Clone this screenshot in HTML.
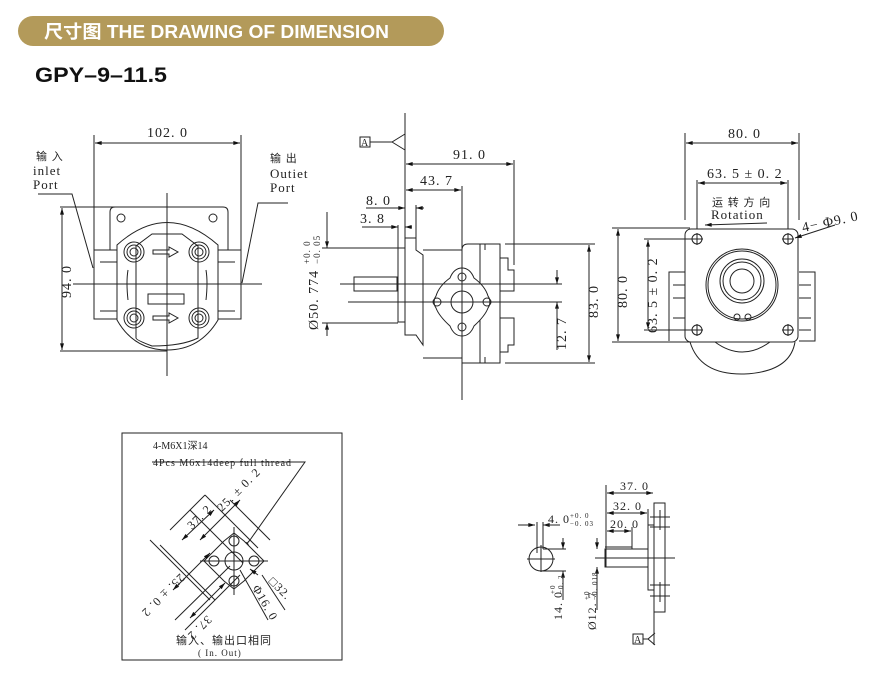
<!DOCTYPE html>
<html><head><meta charset="utf-8"><style>
html,body{margin:0;padding:0;background:#fff;}
body{width:880px;height:684px;position:relative;overflow:hidden;}
svg{position:absolute;left:0;top:0;}
.d{font-family:"Liberation Serif","Noto Serif CJK SC",serif;font-size:14px;fill:#222;letter-spacing:1px;}
.s{font-family:"Liberation Serif","Noto Sans CJK SC",serif;font-size:11px;fill:#222;letter-spacing:1px;}
</style></head><body>
<svg width="880" height="684" viewBox="0 0 880 684" xmlns="http://www.w3.org/2000/svg">
<defs>
<marker id="a" viewBox="0 0 10 6" refX="10" refY="3" markerWidth="7" markerHeight="4" orient="auto-start-reverse"><path d="M0,0 L10,3 L0,6z" fill="#111"/></marker>
</defs>
<rect x="18" y="16" width="426" height="30" rx="15" fill="#b39a5a"/>
<text x="44" y="38" font-family="Liberation Sans,'Noto Sans CJK SC',sans-serif" font-weight="bold" font-size="18" fill="#fff" textLength="345" lengthAdjust="spacingAndGlyphs">尺寸图  THE DRAWING OF DIMENSION</text>
<text x="35" y="82" font-family="Liberation Sans,sans-serif" font-weight="bold" font-size="21" fill="#111" textLength="132" lengthAdjust="spacingAndGlyphs">GPY–9–11.5</text>

<g stroke="#222" stroke-width="1" fill="none">
<!-- front view -->
<line x1="94" y1="135" x2="94" y2="319"/><line x1="241" y1="135" x2="241" y2="319"/>
<line x1="95" y1="143" x2="240" y2="143" marker-start="url(#a)" marker-end="url(#a)"/>
<path d="M110,250 V212 Q110,207 115,207 H223 Q228,207 228,212 V250"/>
<circle cx="121" cy="218" r="4"/><circle cx="213" cy="218" r="4"/>
<rect x="94" y="250" width="147" height="69"/>
<line x1="100" y1="262" x2="117" y2="262"/><line x1="218" y1="262" x2="235" y2="262"/>
<line x1="100" y1="311" x2="117" y2="311"/><line x1="218" y1="311" x2="235" y2="311"/>
<path d="M117,245 Q167,200 218,245 V320 Q200,350 167,350 Q134,350 117,320 Z" fill="#fff"/>
<path d="M152,234 H182 Q190,240 198,246 V338 Q182,346 152,346 Q136,340 136,338 V246 Q144,240 152,234Z"/>
<path d="M128,270 Q126,282 128,300 M206,270 Q208,282 206,300"/>
<rect x="148" y="294" width="36" height="10"/>
<path d="M153,250 H169 V247 L178,252 L169,257 V254 H153Z"/>
<path d="M153,316 H169 V313 L178,318 L169,323 V320 H153Z"/>
<g><circle cx="134" cy="252" r="10"/><circle cx="134" cy="252" r="7"/><circle cx="134" cy="252" r="4"/>
<circle cx="199" cy="252" r="10"/><circle cx="199" cy="252" r="7"/><circle cx="199" cy="252" r="4"/>
<circle cx="134" cy="318" r="10"/><circle cx="134" cy="318" r="7"/><circle cx="134" cy="318" r="4"/>
<circle cx="199" cy="318" r="10"/><circle cx="199" cy="318" r="7"/><circle cx="199" cy="318" r="4"/></g>
<line x1="167" y1="193" x2="167" y2="376"/><line x1="73" y1="284" x2="262" y2="284"/>
<line x1="60" y1="207" x2="120" y2="207"/><line x1="60" y1="351" x2="167" y2="351"/>
<line x1="62" y1="208" x2="62" y2="350" marker-start="url(#a)" marker-end="url(#a)"/>
<path d="M38,194 H72 L93,268"/><path d="M288,203 H258 L242,283"/>
<!-- side view -->
<rect x="360" y="137" width="10" height="10"/><path d="M370,142 H392 L405,134 M392,142 L405,150"/>
<line x1="405" y1="113" x2="405" y2="245"/>
<line x1="406" y1="164" x2="513" y2="164" marker-start="url(#a)" marker-end="url(#a)"/>
<line x1="514" y1="160" x2="514" y2="265"/>
<line x1="406" y1="190" x2="461" y2="190" marker-start="url(#a)" marker-end="url(#a)"/>
<line x1="462" y1="186" x2="462" y2="400"/>
<line x1="366" y1="208" x2="398" y2="208"/><line x1="398" y1="208" x2="405" y2="208" marker-end="url(#a)"/><line x1="424" y1="208" x2="416" y2="208" marker-end="url(#a)"/><line x1="416" y1="205" x2="416" y2="238"/>
<line x1="362" y1="227" x2="391" y2="227"/><line x1="391" y1="227" x2="398" y2="227" marker-end="url(#a)"/><line x1="412" y1="227" x2="405" y2="227" marker-end="url(#a)"/><line x1="398" y1="225" x2="398" y2="248"/>
<rect x="398" y="248" width="7" height="74"/>
<path d="M405,238 H416 V250 L423,255 V345 L416,335 H405Z"/>
<path d="M423,250 H462 V358 H423"/>
<path d="M462,250 Q462,244 468,244 H480 V363 H462"/>
<path d="M480,244 H500 V363 H480 M485,244 V250 M485,357 V363"/>
<path d="M500,258 H508 V270 H514 V291 H500 M500,318 H514 V345 H508 V352 H500"/>
<rect x="354" y="277" width="43" height="14"/>
<path d="M462,268 Q470,268 474,278 Q485,286 488,296 Q492,302 488,308 Q485,316 474,326 Q470,336 462,336 Q454,336 450,326 Q439,316 436,308 Q432,302 436,296 Q439,286 450,278 Q454,268 462,268Z" fill="#fff"/>
<circle cx="462" cy="302" r="11"/>
<circle cx="462" cy="277" r="4"/><circle cx="462" cy="327" r="4"/><circle cx="437" cy="302" r="4"/><circle cx="487" cy="302" r="4"/>
<line x1="462" y1="186" x2="462" y2="400"/>
<line x1="340" y1="284" x2="562" y2="284"/><line x1="348" y1="302" x2="562" y2="302"/>
<line x1="322" y1="248" x2="398" y2="248"/><line x1="322" y1="323" x2="398" y2="323"/>
<line x1="327" y1="212" x2="327" y2="248"/><line x1="327" y1="235" x2="327" y2="248" marker-end="url(#a)"/><line x1="327" y1="336" x2="327" y2="323" marker-end="url(#a)"/><line x1="327" y1="323" x2="327" y2="330"/>
<line x1="505" y1="244" x2="595" y2="244"/><line x1="505" y1="363" x2="595" y2="363"/>
<line x1="589" y1="245" x2="589" y2="362" marker-start="url(#a)" marker-end="url(#a)"/>
<line x1="557" y1="270" x2="557" y2="284" marker-end="url(#a)"/><line x1="557" y1="318" x2="557" y2="302" marker-end="url(#a)"/><line x1="557" y1="302" x2="557" y2="350"/>
<!-- right view -->
<line x1="685" y1="133" x2="685" y2="220"/><line x1="799" y1="133" x2="799" y2="220"/>
<line x1="686" y1="143" x2="798" y2="143" marker-start="url(#a)" marker-end="url(#a)"/>
<line x1="697" y1="180" x2="697" y2="232"/><line x1="788" y1="180" x2="788" y2="232"/>
<line x1="698" y1="183" x2="787" y2="183" marker-start="url(#a)" marker-end="url(#a)"/>
<line x1="767" y1="223" x2="705" y2="225" marker-end="url(#a)"/>
<path d="M669,341 V272 H685 M799,272 H815 V341 H799"/>
<line x1="673" y1="285" x2="685" y2="285"/><line x1="673" y1="298" x2="685" y2="298"/><line x1="673" y1="318" x2="685" y2="318"/><line x1="673" y1="330" x2="685" y2="330"/>
<line x1="799" y1="285" x2="811" y2="285"/><line x1="799" y1="298" x2="811" y2="298"/><line x1="799" y1="318" x2="811" y2="318"/><line x1="799" y1="330" x2="811" y2="330"/>
<path d="M690,342 Q700,375 744,374 Q790,372 795,342"/><path d="M715,342 Q742,362 770,342"/>
<rect x="685" y="229" width="113" height="113" rx="6" fill="#fff"/>
<circle cx="742" cy="285" r="36"/><circle cx="742" cy="285" r="34"/>
<circle cx="742" cy="281" r="22"/><circle cx="742" cy="281" r="19"/><circle cx="742" cy="281" r="12"/>
<circle cx="737" cy="317" r="3"/><circle cx="748" cy="317" r="3"/>
<g><circle cx="697" cy="239" r="5"/><circle cx="788" cy="239" r="5"/><circle cx="697" cy="330" r="5"/><circle cx="788" cy="330" r="5"/>
<path d="M691,239h12M697,233v12M782,239h12M788,233v12M691,330h12M697,324v12M782,330h12M788,324v12"/></g>
<line x1="835" y1="225" x2="795" y2="238" marker-end="url(#a)"/>
<line x1="612" y1="228" x2="690" y2="228"/><line x1="612" y1="342" x2="690" y2="342"/>
<line x1="618" y1="229" x2="618" y2="341" marker-start="url(#a)" marker-end="url(#a)"/>
<line x1="644" y1="239" x2="697" y2="239"/><line x1="644" y1="330" x2="697" y2="330"/>
<line x1="648" y1="240" x2="648" y2="329" marker-start="url(#a)" marker-end="url(#a)"/>
<!-- bottom left box -->
<rect x="122" y="433" width="220" height="227"/>
<path d="M152,462 H305 L250,540"/><line x1="250" y1="540" x2="243" y2="548" marker-end="url(#a)"/>
<path d="M234,561 m0,-28 l10,8 l12,12 l8,8 l-8,8 l-12,12 l-10,8 l-10,-8 l-12,-12 l-8,-8 l8,-8 l12,-12z" fill="#fff"/>
<circle cx="234" cy="561" r="9"/>
<circle cx="234" cy="541" r="5"/><circle cx="214" cy="561" r="5"/><circle cx="254" cy="561" r="5"/><circle cx="234" cy="581" r="5"/>
<line x1="200" y1="561" x2="268" y2="561"/><line x1="234" y1="527" x2="234" y2="595"/>
<line x1="170" y1="530" x2="205" y2="495"/><line x1="182" y1="540" x2="214" y2="510" marker-start="url(#a)" marker-end="url(#a)"/>
<line x1="205" y1="495" x2="258" y2="548"/><line x1="190" y1="510" x2="243" y2="563"/>
<line x1="200" y1="540" x2="240" y2="500" marker-start="url(#a)" marker-end="url(#a)"/>
<line x1="230" y1="500" x2="270" y2="540"/>
<line x1="150" y1="540" x2="210" y2="600"/><line x1="160" y1="545" x2="215" y2="600"/>
<line x1="173" y1="590" x2="210" y2="553" marker-start="url(#a)" marker-end="url(#a)"/>
<line x1="175" y1="620" x2="230" y2="566"/><line x1="185" y1="630" x2="240" y2="575"/>
<line x1="190" y1="618" x2="225" y2="583" marker-start="url(#a)" marker-end="url(#a)"/>
<line x1="240" y1="570" x2="268" y2="620"/><line x1="262" y1="575" x2="285" y2="610"/>
<line x1="250" y1="569" x2="258" y2="575" marker-start="url(#a)"/>
<!-- bottom right -->
<line x1="518" y1="525" x2="535" y2="525"/><line x1="528" y1="525" x2="535" y2="525" marker-end="url(#a)"/><line x1="553" y1="525" x2="543" y2="525" marker-end="url(#a)"/><line x1="543" y1="525" x2="560" y2="525"/>
<line x1="537" y1="522" x2="537" y2="553"/><line x1="543" y1="522" x2="543" y2="549"/>
<circle cx="541" cy="559" r="12"/><line x1="527" y1="559" x2="555" y2="559"/><line x1="541" y1="545" x2="541" y2="572"/>
<line x1="543" y1="549" x2="566" y2="549"/><line x1="541" y1="571" x2="566" y2="571"/>
<line x1="563" y1="538" x2="563" y2="549" marker-end="url(#a)"/><line x1="563" y1="582" x2="563" y2="571" marker-end="url(#a)"/><line x1="563" y1="571" x2="563" y2="600"/>
<line x1="606" y1="485" x2="606" y2="567"/>
<line x1="607" y1="493" x2="653" y2="493" marker-start="url(#a)" marker-end="url(#a)"/>
<line x1="607" y1="513" x2="647" y2="513" marker-start="url(#a)" marker-end="url(#a)"/>
<line x1="607" y1="531" x2="631" y2="531" marker-start="url(#a)" marker-end="url(#a)"/>
<line x1="632" y1="527" x2="632" y2="549"/><line x1="648" y1="509" x2="648" y2="525"/>
<rect x="605" y="549" width="43" height="18"/><line x1="605" y1="547" x2="632" y2="547"/>
<rect x="648" y="525" width="6" height="65"/>
<rect x="654" y="503" width="11" height="109"/>
<path d="M650,517h20M650,527h20M650,585h20M650,596h20M660,510v20M660,582v20"/>
<line x1="595" y1="558" x2="675" y2="558"/>
<line x1="597" y1="538" x2="597" y2="549" marker-end="url(#a)"/><line x1="597" y1="578" x2="597" y2="567" marker-end="url(#a)"/><line x1="597" y1="567" x2="597" y2="610"/>
<line x1="654" y1="612" x2="654" y2="645"/>
<rect x="633" y="634" width="10" height="10"/><path d="M643,639 H648 L655,633 M648,639 L655,645"/>
</g>

<g class="d">
<text x="147" y="137">102. 0</text>
<text x="453" y="159">91. 0</text>
<text x="420" y="185">43. 7</text>
<text x="366" y="205">8. 0</text>
<text x="360" y="223">3. 8</text>
<text x="728" y="138">80. 0</text>
<text x="707" y="178">63. 5 ± 0. 2</text>
<text x="803" y="232" transform="rotate(-12 803 232)">4− Φ9. 0</text>
<text transform="translate(71,298) rotate(-90)">94. 0</text>
<text transform="translate(318,330) rotate(-90)">Ø50. 774</text>
<text transform="translate(598,318) rotate(-90)">83. 0</text>
<text transform="translate(566,350) rotate(-90)">12. 7</text>
<text transform="translate(627,308) rotate(-90)">80. 0</text>
<text transform="translate(657,333) rotate(-90)">63. 5 ± 0. 2</text>
</g>
<g class="s">
<text transform="translate(310,264) rotate(-90)" font-size="9">+0. 0</text>
<text transform="translate(320,264) rotate(-90)" font-size="9">−0. 05</text>
<text x="36" y="160" font-size="11">输 入</text>
<text x="33" y="175" font-size="13">inlet</text>
<text x="33" y="189" font-size="13">Port</text>
<text x="270" y="162" font-size="11">输 出</text>
<text x="270" y="178" font-size="13">Outiet</text>
<text x="270" y="192" font-size="13">Port</text>
<text x="712" y="206" font-size="11">运 转 方 向</text>
<text x="711" y="219" font-size="13">Rotation</text>
<text x="153" y="449" font-size="10" letter-spacing="0">4-M6X1深14</text>
<text x="153" y="466" font-size="10">4Pcs M6x14deep full thread</text>
<text x="176" y="644" font-size="11" font-family="Liberation Sans,'Noto Sans CJK SC',sans-serif">输入、输出口相同</text>
<text x="198" y="656" font-size="9">( In. Out)</text>
<text transform="translate(192,530) rotate(-45)" font-size="12">37. 2</text>
<text transform="translate(222,512) rotate(-45)" font-size="12">25. ± 0. 2</text>
<text transform="translate(180,573) rotate(135)" font-size="12">25. ± 0. 2</text>
<text transform="translate(207,615) rotate(135)" font-size="12">37. 2</text>
<text transform="translate(252,588) rotate(60)" font-size="12">Φ16. 0</text>
<text transform="translate(268,582) rotate(45)" font-size="12">□32.</text>
<text x="548" y="523" font-size="12">4. 0</text>
<text x="570" y="518" font-size="7">+0. 0</text>
<text x="570" y="526" font-size="7">−0. 03</text>
<text x="620" y="490" font-size="12">37. 0</text>
<text x="613" y="510" font-size="12">32. 0</text>
<text x="610" y="528" font-size="12">20. 0</text>
<text transform="translate(562,620) rotate(-90)" font-size="12">14. 0</text>
<text transform="translate(555,594) rotate(-90)" font-size="7">+0</text>
<text transform="translate(563,594) rotate(-90)" font-size="7">−0. 2</text>
<text transform="translate(596,630) rotate(-90)" font-size="12">Ø12. 7</text>
<text transform="translate(589,600) rotate(-90)" font-size="7">+0</text>
<text transform="translate(597,600) rotate(-90)" font-size="7">−0. 018</text>
<text x="361" y="146" font-size="10">A</text>
<text x="634" y="643" font-size="10">A</text>
</g>
</svg>
</body></html>
